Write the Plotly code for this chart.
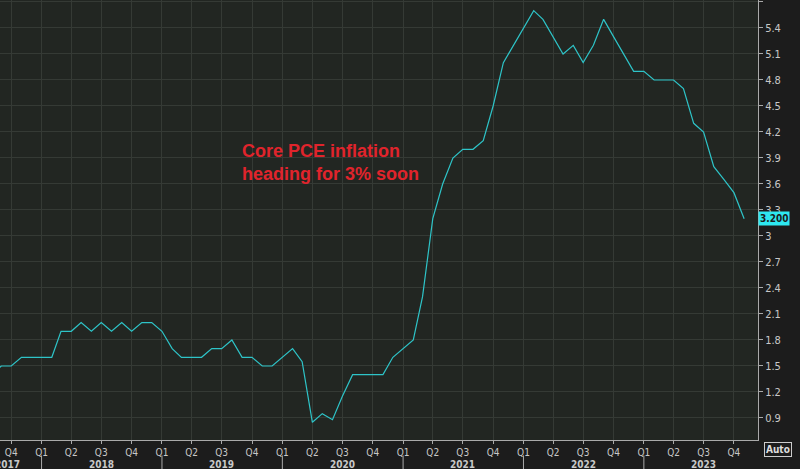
import pandas as pd
import plotly.graph_objects as go

# Core PCE YoY (%), monthly Aug 2017 - Nov 2023
months = pd.date_range("2017-08-01", "2023-11-01", freq="MS")
core_pce = [
    1.4, 1.5, 1.5, 1.6, 1.6,
    1.6, 1.6, 1.9, 1.9, 2.0, 1.9, 2.0, 1.9, 2.0, 1.9, 2.0, 2.0,
    1.9, 1.7, 1.6, 1.6, 1.6, 1.7, 1.7, 1.8, 1.6, 1.6, 1.5, 1.5,
    1.6, 1.7, 1.55, 0.85, 0.95, 0.88, 1.15, 1.4, 1.4, 1.4, 1.4, 1.6,
    1.7, 1.8, 2.3, 3.2, 3.6, 3.9, 4.0, 4.0, 4.1, 4.5, 5.0, 5.2,
    5.4, 5.6, 5.5, 5.3, 5.1, 5.2, 5.0, 5.2, 5.5, 5.3, 5.1, 4.9,
    4.9, 4.8, 4.8, 4.8, 4.7, 4.3, 4.2, 3.8, 3.65, 3.5, 3.2,
]
quarter_ticks = pd.date_range("2017-10-01", "2023-10-01", freq="QS")
quarter_labels = ["Q%d" % ((d.month - 1) // 3 + 1) for d in quarter_ticks]
years = [2017, 2018, 2019, 2020, 2021, 2022, 2023]
y_ticks = [0.9, 1.2, 1.5, 1.8, 2.1, 2.4, 2.7, 3, 3.3, 3.6, 3.9, 4.2, 4.5, 4.8, 5.1, 5.4, 5.7]

fig = go.Figure()
fig.add_trace(go.Scatter(x=months, y=core_pce, mode="lines",
                         line=dict(color="#2ec4c8", width=1.2), showlegend=False))

fig.update_layout(
    width=800, height=469,
    margin=dict(l=0, r=42, t=0, b=29, autoexpand=False),
    paper_bgcolor="#1c1c1c", plot_bgcolor="#222622",
    font=dict(family="DejaVu Sans Condensed, DejaVu Sans", color="#c8c8c8", size=11),
)
fig.update_xaxes(range=["2017-08-28", "2023-12-13"], tickvals=quarter_ticks,
                 ticktext=quarter_labels, ticks="outside", ticklen=3,
                 tickcolor="#aaaaaa", gridcolor="#353a35", showline=True,
                 linecolor="#aaaaaa", tickfont=dict(size=10), automargin=False)
fig.update_yaxes(range=[0.646, 5.723], side="right", tickvals=y_ticks,
                 ticktext=[("%g" % v) for v in y_ticks], ticks="outside",
                 ticklen=4, tickcolor="#aaaaaa", gridcolor="#353a35",
                 showline=True, linecolor="#aaaaaa", zeroline=False, automargin=False)

# year labels and separators
for yr in years:
    if yr > 2017:
        fig.add_shape(type="line", xref="x", yref="paper", x0=f"{yr}-01-01", x1=f"{yr}-01-01",
                      y0=-0.035, y1=-0.066, line=dict(color="#aaaaaa", width=1))
    xpos = f"{yr}-07-01" if yr > 2017 else "2017-09-20"
    fig.add_annotation(x=xpos, y=0, xref="x", yref="paper", text=f"<b>{yr}</b>",
                       showarrow=False, font=dict(size=10, color="#c8c8c8"),
                       yanchor="top", yshift=-17)

fig.add_annotation(x=1.0, y=core_pce[-1], text="<b>3.200</b>", xref="paper", yref="y",
                   showarrow=False, xanchor="left", xshift=0, bgcolor="#2ee8f0",
                   font=dict(color="#1c1c1c", size=10), borderpad=1)
fig.add_annotation(x="2019-08-25", y=3.85, xref="x", yref="y", xanchor="left",
                   text="<b>Core PCE inflation<br>heading for 3% soon</b>", align="left",
                   showarrow=False, font=dict(family="Liberation Sans, Arial", size=18, color="#e0242c"))
fig.add_annotation(x=1.0, y=0, xref="paper", yref="paper", text="<b>Auto</b>", xanchor="left",
                   xshift=6, yanchor="top", yshift=-2, showarrow=False, bordercolor="#cccccc",
                   borderwidth=1, borderpad=1, font=dict(size=10, color="#dddddd"))

fig.write_html("out.html", config={"displayModeBar": False},
               post_script="document.body.style.margin='0';")
